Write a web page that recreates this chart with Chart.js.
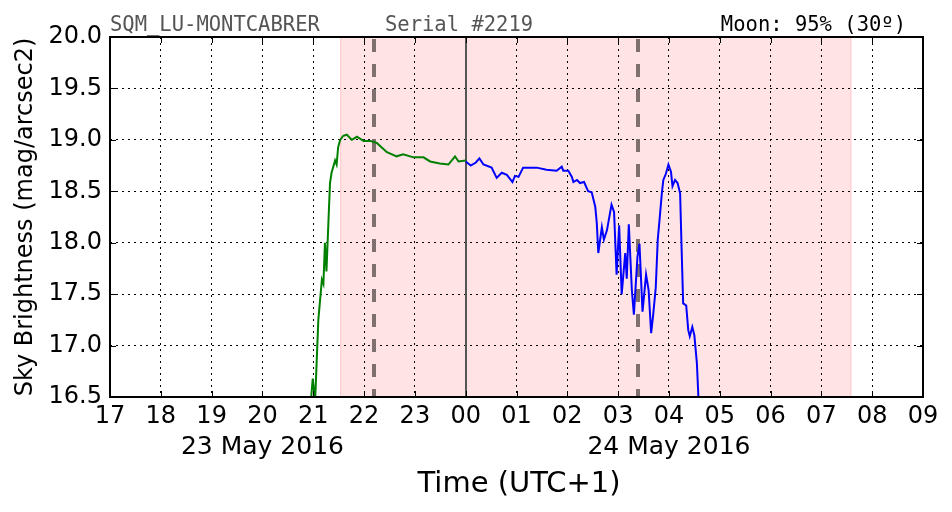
<!DOCTYPE html>
<html>
<head>
<meta charset="utf-8">
<script src="https://cdn.jsdelivr.net/npm/chart.js@4.4.0/dist/chart.umd.min.js"></script>
<style>
  html, body { margin: 0; padding: 0; background: #fff; }
  #wrap { width: 952px; height: 512px; }
</style>
</head>
<body>
<div id="wrap"><canvas id="myChart" width="952" height="512"></canvas></div>
<script>
// hours since 00:00 of 23 May 2016 (24 = midnight of 24 May)
var greenHours = [20.96, 20.99, 21.01, 21.04, 21.10, 21.17, 21.20, 21.23, 21.26, 21.30, 21.33, 21.36, 21.43, 21.46, 21.49, 21.53, 21.59, 21.66, 21.76, 21.86, 21.99, 22.12, 22.25, 22.45, 22.64, 22.77, 22.97, 23.17, 23.30, 23.49, 23.66, 23.79, 23.86, 24.0];
var greenMag = [16.50, 16.68, 16.58, 16.50, 17.25, 17.64, 17.60, 18.00, 17.72, 18.22, 18.58, 18.68, 18.80, 18.76, 18.93, 19.00, 19.04, 19.05, 19.00, 19.03, 18.99, 18.99, 18.97, 18.88, 18.84, 18.86, 18.83, 18.83, 18.79, 18.77, 18.76, 18.84, 18.79, 18.80];

var blueHours = [24.0, 24.10, 24.20, 24.27, 24.35, 24.51, 24.61, 24.71, 24.81, 24.92, 24.97, 25.04, 25.13, 25.40, 25.59, 25.79, 25.89, 25.92, 26.02, 26.09, 26.12, 26.19, 26.25, 26.33, 26.41, 26.48, 26.55, 26.58, 26.61, 26.68, 26.72, 26.78, 26.87, 26.92, 26.97, 27.02, 27.07, 27.14, 27.17, 27.21, 27.27, 27.31, 27.38, 27.42, 27.48, 27.55, 27.60, 27.65, 27.69, 27.74, 27.78, 27.82, 27.86, 27.89, 27.94, 27.99, 28.04, 28.07, 28.12, 28.17, 28.22, 28.25, 28.28, 28.34, 28.38, 28.41, 28.46, 28.50, 28.55, 28.58];
var blueMag = [18.79, 18.75, 18.78, 18.82, 18.76, 18.73, 18.63, 18.68, 18.66, 18.59, 18.65, 18.64, 18.73, 18.73, 18.71, 18.70, 18.74, 18.70, 18.70, 18.64, 18.59, 18.61, 18.58, 18.59, 18.50, 18.49, 18.35, 18.19, 17.90, 18.15, 18.03, 18.12, 18.37, 18.30, 17.69, 18.17, 17.50, 17.90, 17.65, 18.18, 17.54, 17.30, 17.86, 17.99, 17.33, 17.69, 17.54, 17.12, 17.30, 17.56, 18.03, 18.25, 18.48, 18.61, 18.67, 18.76, 18.69, 18.55, 18.61, 18.58, 18.48, 17.93, 17.41, 17.39, 17.15, 17.09, 17.18, 17.10, 16.83, 16.50];

var xTicks = [17, 18, 19, 20, 21, 22, 23, 24, 25, 26, 27, 28, 29, 30, 31, 32, 33];
var xTickLabels = ["17", "18", "19", "20", "21", "22", "23", "00", "01", "02", "03", "04", "05", "06", "07", "08", "09"];
var yTicks = [16.5, 17.0, 17.5, 18.0, 18.5, 19.0, 19.5, 20.0];

var nightBand = [21.53, 31.59];     // astronomical night (shaded)
var dashedLines = [22.2, 27.39];    // moon rise/set
var midnight = 24;
var dateLabels = [{ at: 20, text: "23 May 2016" }, { at: 28, text: "24 May 2016" }];

function pairs(xs, ys) {
  return xs.map(function (x, i) { return { x: x, y: ys[i] }; });
}

var decor = {
  id: "decor",
  beforeDraw: function (chart) {
    var ctx = chart.ctx, a = chart.chartArea, xs = chart.scales.x;
    ctx.save();
    ctx.fillStyle = "#fff";
    ctx.fillRect(0, 0, chart.width, chart.height);
    var x0 = xs.getPixelForValue(nightBand[0]), x1 = xs.getPixelForValue(nightBand[1]);
    ctx.fillStyle = "#ffe3e5";
    ctx.fillRect(x0, a.top, x1 - x0, a.bottom - a.top);
    ctx.strokeStyle = "#ffc8cc";
    ctx.lineWidth = 1;
    ctx.beginPath();
    ctx.moveTo(x0 + 0.5, a.top); ctx.lineTo(x0 + 0.5, a.bottom);
    ctx.moveTo(x1 - 0.5, a.top); ctx.lineTo(x1 - 0.5, a.bottom);
    ctx.stroke();
    ctx.restore();
  },
  beforeDatasetsDraw: function (chart) {
    var ctx = chart.ctx, a = chart.chartArea, xs = chart.scales.x;
    ctx.save();
    ctx.strokeStyle = "#7f7070";
    ctx.lineWidth = 4;
    ctx.setLineDash([13, 12]);
    dashedLines.forEach(function (h) {
      var x = Math.round(xs.getPixelForValue(h));
      ctx.beginPath();
      ctx.moveTo(x, a.top + 2); ctx.lineTo(x, a.bottom);
      ctx.stroke();
    });
    ctx.setLineDash([]);
    ctx.strokeStyle = "#555";
    ctx.lineWidth = 2;
    var xm = Math.round(xs.getPixelForValue(midnight));
    ctx.beginPath();
    ctx.moveTo(xm, a.top); ctx.lineTo(xm, a.bottom);
    ctx.stroke();
    ctx.restore();
  },
  afterDraw: function (chart) {
    var ctx = chart.ctx, a = chart.chartArea, xs = chart.scales.x;
    ctx.save();
    // frame
    ctx.strokeStyle = "#000";
    ctx.lineWidth = 2;
    ctx.strokeRect(a.left, a.top, a.right - a.left, a.bottom - a.top);
    // small inner tick marks
    ctx.lineWidth = 1;
    ctx.beginPath();
    xTicks.forEach(function (t) {
      var x = Math.round(xs.getPixelForValue(t)) + 0.5;
      ctx.moveTo(x, a.bottom); ctx.lineTo(x, a.bottom - 6);
      ctx.moveTo(x, a.top); ctx.lineTo(x, a.top + 6);
    });
    yTicks.forEach(function (t) {
      var y = Math.round(chart.scales.y.getPixelForValue(t)) + 0.5;
      ctx.moveTo(a.left, y); ctx.lineTo(a.left + 6, y);
      ctx.moveTo(a.right, y); ctx.lineTo(a.right - 6, y);
    });
    ctx.stroke();
    // header texts
    ctx.font = "20.5px 'DejaVu Sans Mono'";
    ctx.textBaseline = "alphabetic";
    ctx.fillStyle = "#555";
    ctx.textAlign = "left";
    ctx.fillText("SQM_LU-MONTCABRER", 110, 31);
    ctx.fillText("Serial #2219", 385, 31);
    ctx.fillStyle = "#000";
    ctx.textAlign = "right";
    ctx.fillText("Moon: 95% (30º)", 906, 31);
    // date labels
    ctx.font = "25px 'DejaVu Sans'";
    ctx.textAlign = "center";
    dateLabels.forEach(function (d) {
      ctx.fillText(d.text, xs.getPixelForValue(d.at), 454);
    });
    // axis title
    ctx.font = "29px 'DejaVu Sans'";
    ctx.fillText("Time (UTC+1)", xs.getPixelForValue(25.05), 492);
    ctx.restore();
  }
};

var ctx = document.getElementById("myChart").getContext("2d");
var chart = new Chart(ctx, {
  type: "line",
  data: {
    datasets: [
      {
        label: "evening",
        data: pairs(greenHours, greenMag),
        borderColor: "#008000",
        borderWidth: 2,
        pointRadius: 0,
        tension: 0,
      },
      {
        label: "night",
        data: pairs(blueHours, blueMag),
        borderColor: "#0000ff",
        borderWidth: 2,
        pointRadius: 0,
        tension: 0,
      },
    ],
  },
  options: {
    responsive: false,
    animation: false,
    layout: { padding: { left: 0, right: 29, top: 37, bottom: 0 } },
    plugins: {
      legend: { display: false },
      tooltip: { enabled: false },
    },
    scales: {
      x: {
        type: "linear",
        min: 17,
        max: 33,
        afterFit: function (s) { s.height = 115; },
        afterBuildTicks: function (s) { s.ticks = xTicks.map(function (v) { return { value: v }; }); },
        ticks: {
          color: "#000",
          font: { family: "DejaVu Sans", size: 24 },
          padding: 5,
          maxRotation: 0,
          autoSkip: false,
          callback: function (v) { return xTickLabels[xTicks.indexOf(v)]; },
        },
        grid: {
          color: "#000",
          lineWidth: 1,
          drawTicks: false,
        },
        border: { display: false, dash: [2, 4] },
      },
      y: {
        min: 16.5,
        max: 20,
        afterFit: function (s) { s.width = 110; },
        afterBuildTicks: function (s) { s.ticks = yTicks.map(function (v) { return { value: v }; }); },
        ticks: {
          color: "#000",
          font: { family: "DejaVu Sans", size: 24 },
          padding: 8,
          autoSkip: false,
          callback: function (v) { return v.toFixed(1); },
        },
        title: {
          display: true,
          text: "Sky Brightness (mag/arcsec2)",
          color: "#000",
          font: { family: "DejaVu Sans", size: 24 },
          padding: { top: 11, bottom: 0 },
        },
        grid: {
          color: "#000",
          lineWidth: 1,
          drawTicks: false,
        },
        border: { display: false, dash: [2, 4] },
      },
    },
  },
  plugins: [decor],
});
</script>
</body>
</html>
